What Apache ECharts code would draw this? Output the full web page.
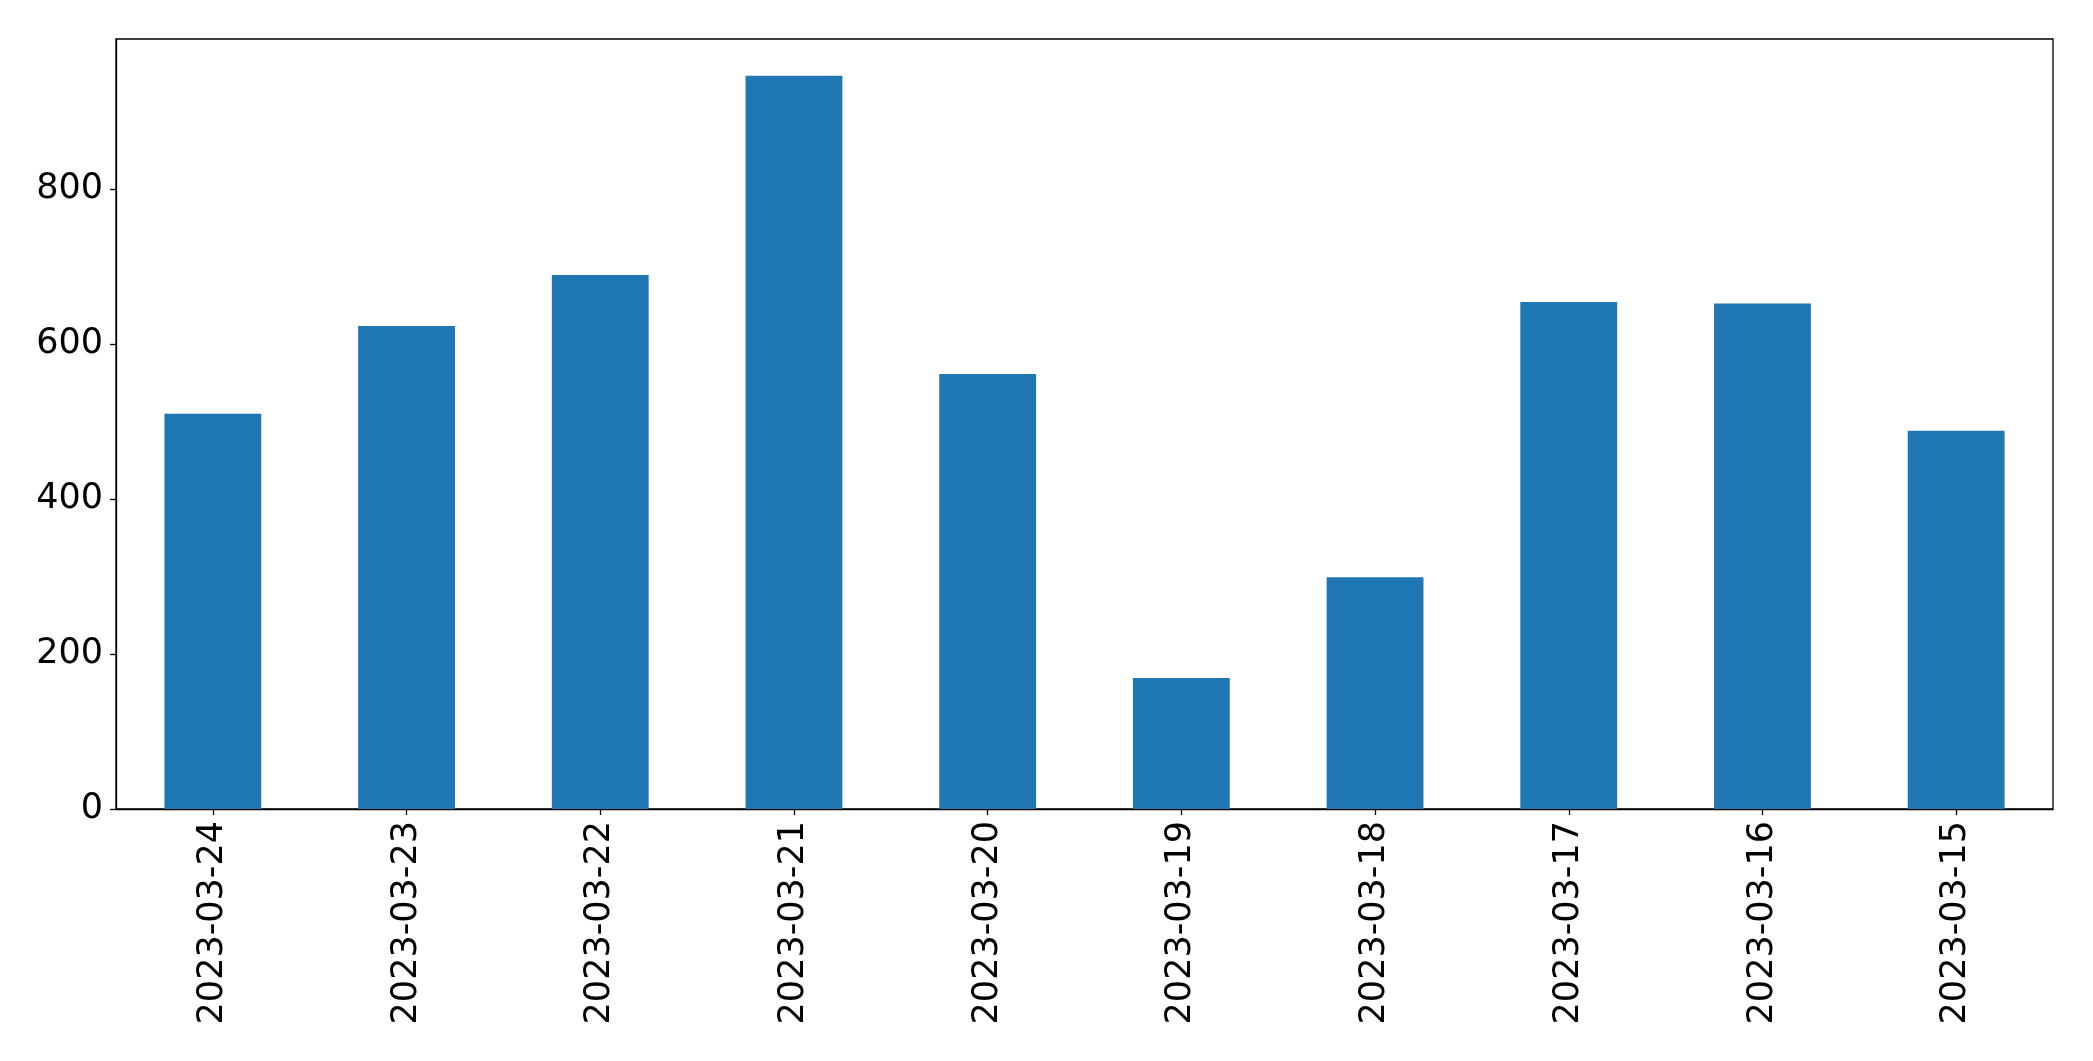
<!DOCTYPE html>
<html>
<head>
<meta charset="utf-8">
<script src="https://cdn.jsdelivr.net/npm/echarts@6/dist/echarts.min.js"></script>
<style>
html,body{margin:0;padding:0;background:#fff;}
#chart{width:2093px;height:1061px;}
</style>
</head>
<body>
<div id="chart"></div>
<script>
const categories = ["2023-03-24","2023-03-23","2023-03-22","2023-03-21","2023-03-20","2023-03-19","2023-03-18","2023-03-17","2023-03-16","2023-03-15"];
const values = [510, 623, 689, 946, 561, 169, 299, 654, 652, 488];
const yTicks = [0, 200, 400, 600, 800];
const yMax = 993.3;

const chart = echarts.init(document.getElementById('chart'), null, {renderer: 'canvas'});
chart.setOption({
  animation: false,
  backgroundColor: '#fff',
  grid: {left: 116, top: 39, right: 40, bottom: 252, show: true, borderColor: '#000', borderWidth: 1.3, containLabel: false},
  xAxis: {
    type: 'category',
    data: categories,
    axisLine: {show: true, lineStyle: {color: '#000', width: 1.3}},
    axisTick: {show: true, alignWithLabel: true, length: 6, lineStyle: {color: '#000', width: 1.3}},
    axisLabel: {rotate: 90, margin: 12, color: '#000', fontSize: 35, fontFamily: 'DejaVu Sans', interval: 0},
    splitLine: {show: false}
  },
  yAxis: {
    type: 'value',
    min: 0,
    max: yMax,
    axisLine: {show: true, lineStyle: {color: '#000', width: 1.3}},
    axisTick: {show: true, length: 6, lineStyle: {color: '#000', width: 1.3}, customValues: yTicks},
    axisLabel: {margin: 13, color: '#000', fontSize: 35, fontFamily: 'DejaVu Sans', customValues: yTicks},
    splitLine: {show: false}
  },
  series: [{
    type: 'bar',
    data: values,
    barWidth: '50%',
    itemStyle: {color: '#1f77b4'}
  }]
});
</script>
</body>
</html>
